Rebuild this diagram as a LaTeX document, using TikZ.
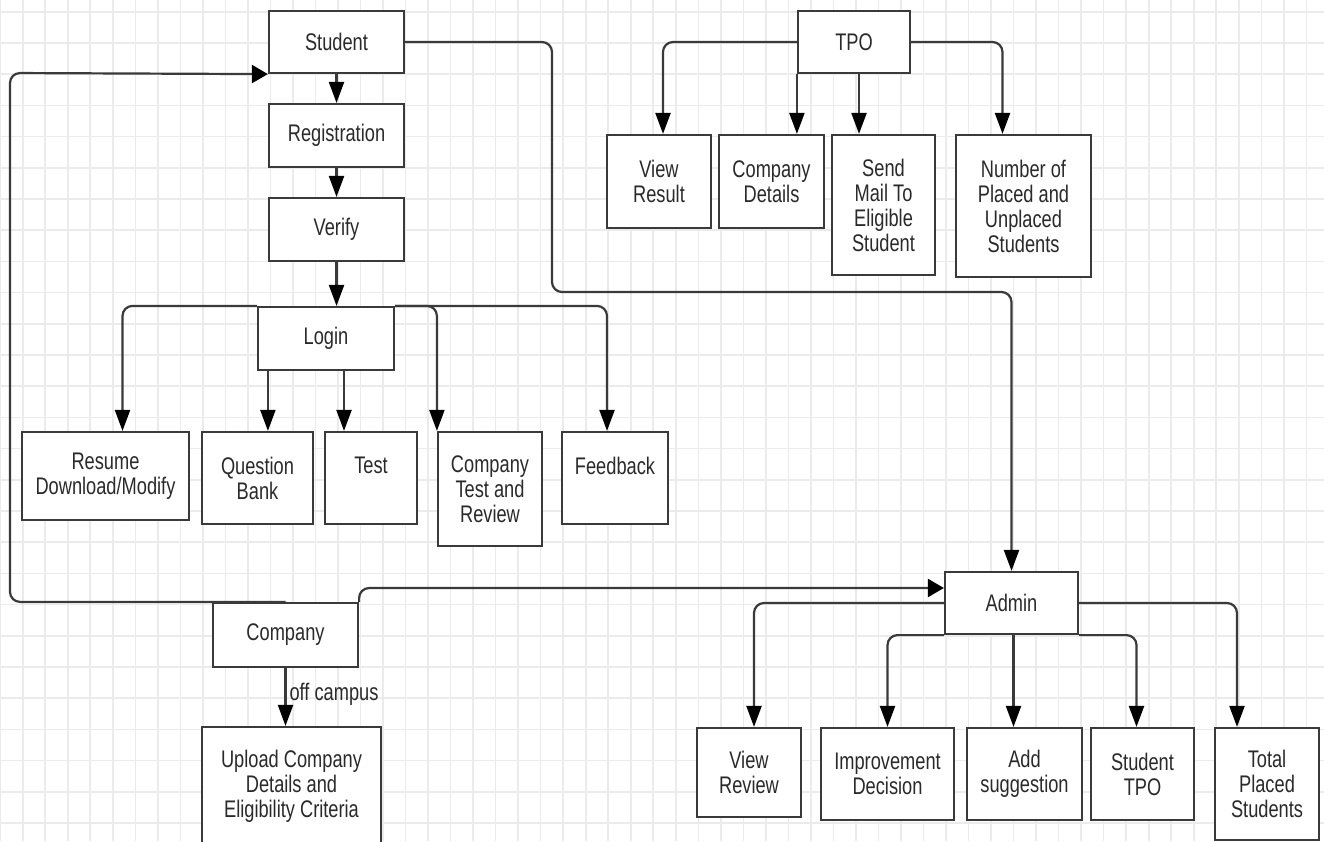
\documentclass[tikz,border=0pt]{standalone}
\usepackage{fontspec}
\setmainfont{Liberation Sans}[FakeStretch=0.76]
\usetikzlibrary{arrows.meta,calc}
\definecolor{ln}{HTML}{3A3A3A}
\definecolor{gridc}{HTML}{EBEBEB}
\definecolor{txt}{HTML}{2A2A2A}
\begin{document}
\begin{tikzpicture}[x=1pt,y=-1pt,
  box/.style={draw=ln, line width=2.2pt, fill=white, inner sep=0pt, align=center, text=txt, font=\fontsize{24}{25}\selectfont, rectangle},
  conn/.style={draw=ln, line width=2.2pt, rounded corners=10pt},
  av/.style={conn, -{Triangle[length=21pt,width=15pt,color=black,fill=black]}},
  ah/.style={conn, -{Triangle[length=16pt,width=18pt,color=black,fill=black]}},
  gridl/.style={draw=gridc, line width=1.6pt},
  lbl/.style={text=txt, font=\fontsize{24}{25}\selectfont, inner sep=3pt}
]
\useasboundingbox (0,0) rectangle (1324,841);
\clip (0,0) rectangle (1324,841);
\fill[white] (0,0) rectangle (1324,841);
% grid
\foreach \i in {0,...,59} \draw[gridl] ({0.2+22.52*\i},0) -- ++(0,841);
\foreach \j in {0,...,26} \draw[gridl] (0,{11.7+31.2*\j}) -- ++(1324,0);

% student branch
\node[box, minimum width=135pt, minimum height=62pt] (student) at (336.5,42) {Student};
\node[box, minimum width=135pt, minimum height=63pt] (reg) at (336.5,135.5) {Registration};
\node[box, minimum width=135pt, minimum height=63pt] (verify) at (336.5,229.5) {Verify};
\node[box, minimum width=136pt, minimum height=63pt] (login) at (326,338.5) {Login};
\node[box, minimum width=167pt, minimum height=88pt] (resume) at (105.5,476) {Resume\\Download/Modify};
\node[box, minimum width=111pt, minimum height=92pt] (qb) at (257.5,478) {Question\\Bank};
\node[box, minimum width=92pt, minimum height=92pt] (test) at (371,478) {Test\\\mbox{}};
\node[box, minimum width=104pt, minimum height=114pt] (ctr) at (490,489) {Company\\Test and\\Review};
\node[box, minimum width=106pt, minimum height=92pt] (feedback) at (615,478) {Feedback\\\mbox{}};

% TPO branch
\node[box, minimum width=112pt, minimum height=62pt] (tpo) at (854,42) {TPO};
\node[box, minimum width=104pt, minimum height=93pt] (viewres) at (659,181.5) {View\\Result};
\node[box, minimum width=105pt, minimum height=93pt] (compdet) at (771.5,181.5) {Company\\Details};
\node[box, minimum width=103pt, minimum height=140pt] (sendmail) at (883.5,205) {Send\\Mail To\\Eligible\\Student};
\node[box, minimum width=135pt, minimum height=142pt] (number) at (1023.5,206) {Number of\\Placed and\\Unplaced\\Students};

% company
\node[box, minimum width=145pt, minimum height=64pt] (company) at (285.5,635) {Company};
\node[box, minimum width=179pt, minimum height=118pt] (upload) at (291.5,786) {Upload Company\\Details and\\Eligibility Criteria};

% admin branch
\node[box, minimum width=133pt, minimum height=62pt] (admin) at (1011.5,603) {Admin};
\node[box, minimum width=104pt, minimum height=89pt] (viewrev) at (749,772.5) {View\\Review};
\node[box, minimum width=133pt, minimum height=92pt] (improv) at (887.5,774) {Improvement\\Decision};
\node[box, minimum width=115pt, minimum height=92pt] (add) at (1024.5,774) {Add\\suggestion};
\node[box, minimum width=103pt, minimum height=92pt] (stpo) at (1142.5,774) {Student\\TPO};
\node[box, minimum width=104pt, minimum height=112pt] (total) at (1267,784) {Total\\Placed\\Students};

% connectors: TPO
\draw[av] (tpo.west) -| ([xshift=4pt]viewres.north);
\draw[av] (tpo.south west) -- (tpo.south west |- compdet.north);
\coordinate (t3) at ([xshift=5pt]tpo.south);
\draw[av] (t3) -- (t3 |- sendmail.north);
\draw[av] (tpo.east) -| ([xshift=-21pt]number.north);

% connectors: student chain
\draw[av] (student.south) -- (reg.north);
\draw[av] (reg.south) -- (verify.north);
\draw[av] (verify.south) -- (verify.south |- login.north);

% connectors: login
\draw[av] (login.north west) -| ([xshift=17pt]resume.north);
\coordinate (l2) at ([xshift=11pt]login.south west);
\draw[av] (l2) -- (l2 |- qb.north);
\coordinate (l3) at ([xshift=18pt]login.south);
\draw[av] (l3) -- (l3 |- test.north);
\draw[av] (login.north east) -| (ctr.north west);
\draw[av] (login.north east) -| ([xshift=-8pt]feedback.north);

% student -> admin
\coordinate (sa) at (552,292);
\draw[av] (student.east) -| (sa) -| (admin.north);

% company -> student
\coordinate (cs) at (10,73);
\draw[ah] (company.north) -| (cs) -- (student.south west);

% company -> admin
\draw[ah] (company.north east) |- ([yshift=15pt]admin.west);

% company -> upload
\draw[av] (company.south) -- node[lbl, anchor=west, pos=0.45] {off campus} (company.south |- upload.north);

% admin connectors
\draw[av] (admin.west) -| ([xshift=5pt]viewrev.north);
\draw[av] (admin.south west) -| (improv.north);
\coordinate (a3) at ([xshift=2pt]admin.south);
\draw[av] (a3) -- (a3 |- add.north);
\draw[av] (admin.south east) -| ([xshift=-6pt]stpo.north);
\draw[av] (admin.east) -| ([xshift=-30pt]total.north);
\end{tikzpicture}
\end{document}
